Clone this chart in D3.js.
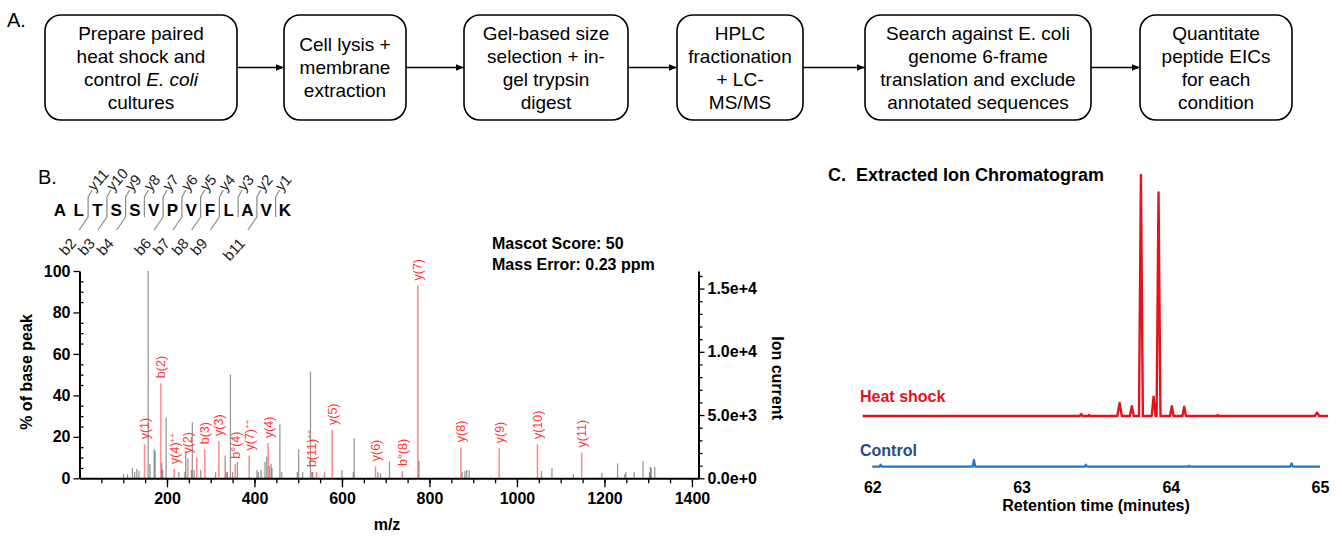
<!DOCTYPE html>
<html>
<head>
<meta charset="utf-8">
<script src="https://cdn.jsdelivr.net/npm/d3@7"></script>
<style>
  body { margin: 0; background: #fff; }
  text { font-family: "Liberation Sans", Arial, Helvetica, sans-serif; }
</style>
</head>
<body>
<svg id="fig" width="1336" height="536"></svg>
<script>
// ---- data ----
const steps = [
  ["Prepare paired", "heat shock and", "control *E. coli*", "cultures"],
  ["Cell lysis +", "membrane", "extraction"],
  ["Gel-based size", "selection + in-", "gel trypsin", "digest"],
  ["HPLC", "fractionation", "+ LC-", "MS/MS"],
  ["Search against E. coli", "genome 6-frame", "translation and exclude", "annotated sequences"],
  ["Quantitate", "peptide EICs", "for each", "condition"]
];

const residues = "ALTSSVPVFLAVK".split("");
const yIons = [11, 10, 9, 8, 7, 6, 5, 4, 3, 2, 1];
const bIons = [2, 3, 4, 6, 7, 8, 9, 11];

// unassigned peaks: [m/z, % of base peak]
const grayPeaks = [
  [100.6, 2], [109.7, 2], [121, 5], [126, 3], [131, 4.5], [136, 3.5], [157, 100], [161, 7],
  [170.7, 14], [173, 13], [188, 7.5], [190, 4], [198, 29.3], [227, 3], [241, 3], [243, 13],
  [256, 4], [258, 27], [262, 4], [277, 4], [311, 3], [333, 11], [338, 3], [345, 50], [350, 3],
  [361, 8], [405.5, 4], [409, 3], [415, 4], [424, 8], [428, 10.5], [434, 6], [438, 7], [440, 5],
  [458, 26], [462, 3], [498, 3], [501, 14], [510, 3], [528, 51.5], [533, 3], [600, 4], [626, 3],
  [628, 19.3], [682, 3], [688, 2.5], [708.6, 8.3], [776, 8.5], [874.7, 3], [881, 3.5], [885, 4],
  [890.7, 4], [1056, 3.5], [1080, 5], [1129, 2], [1194, 2.5], [1230, 7.2], [1246, 2], [1249, 3],
  [1268, 3], [1288, 8.5], [1303, 3], [1305, 5.5], [1307, 5], [1315, 5.5]
];

// assigned fragment peaks: [m/z, % of base peak, label]
const matchedPeaks = [
  [148.6, 16.4, "y(1)"], [186, 45.9, "b(2)"], [216.5, 4.5, "y(4)++"], [247.7, 9.5, "y(2)"],
  [268, 10, ""], [286.6, 14, "b(3)"], [318.6, 18, "y(3)"], [336, 3, ""], [356, 7, "b°(4)"],
  [388, 11, "y(7)++"], [431.3, 17, "y(4)"], [531, 3, "b(11)++"], [542, 3, ""], [560, 3, ""],
  [577.6, 23.3, "y(5)"], [676.6, 5.8, "y(6)"], [738, 3.5, "b°(8)"], [773.5, 93, "y(7)"],
  [871.8, 15, "y(8)"], [959.3, 14.5, "y(9)"], [1046.9, 16.5, "y(10)"], [1148, 12.5, "y(11)"]
];

const pctTicks = [0, 20, 40, 60, 80, 100];
const ionTicks = [0, 5000, 10000, 15000];
const mzTicks = [200, 400, 600, 800, 1000, 1200, 1400];

// extracted ion chromatograms: [retention time (min), relative intensity]
const heatShock = [
  [61.936, 0], [63.39, 0], [63.40, 0.8], [63.41, 0], [63.445, 0], [63.453, 0.4], [63.46, 0],
  [63.642, 0], [63.657, 5.4], [63.672, 0], [63.726, 0], [63.739, 4.1], [63.752, 0],
  [63.787, 0], [63.800, 100], [63.813, 0], [63.872, 0], [63.885, 8], [63.898, 0],
  [63.905, 0], [63.918, 92.8], [63.931, 0], [63.995, 0], [64.007, 4.1], [64.019, 0],
  [64.078, 0], [64.09, 3.9], [64.102, 0], [64.31, 0], [64.315, 0.4], [64.32, 0],
  [64.965, 0], [64.98, 1.4], [64.995, 0], [65.054, 0]
];
const control = [
  [62.0, 0], [62.048, 0], [62.056, 0.8], [62.064, 0], [62.672, 0], [62.681, 2.8], [62.69, 0],
  [63.424, 0], [63.431, 0.8], [63.44, 0], [64.116, 0], [64.123, 0.4], [64.13, 0],
  [64.8, 0], [64.809, 1.4], [64.818, 0], [65.0, 0]
];
const rtTicks = [62, 63, 64, 65];

// ---- drawing ----
const svg = d3.select("#fig");
svg.append("rect").attr("width", 1336).attr("height", 536).attr("fill", "#fff");

// A. workflow
svg.append("text").attr("x", 7).attr("y", 27).attr("font-size", 20).text("A.");

const boxLeft = [45, 284, 464, 677, 865, 1140];
const boxRight = [237, 406, 628, 803, 1091, 1292];
const boxTop = 15, boxBottom = 120, boxMid = (boxTop + boxBottom) / 2;

const flow = svg.append("g");
flow.append("defs").append("marker")
  .attr("id", "arrow").attr("viewBox", "0 0 10 10").attr("refX", 10).attr("refY", 5)
  .attr("markerWidth", 6).attr("markerHeight", 6).attr("orient", "auto")
  .append("path").attr("d", "M0,1L10,5L0,9Z").attr("fill", "#000");

steps.forEach((lines, i) => {
  const x0 = boxLeft[i], x1 = boxRight[i];
  flow.append("rect")
    .attr("x", x0).attr("y", boxTop).attr("width", x1 - x0).attr("height", boxBottom - boxTop)
    .attr("rx", 16).attr("fill", "#fff").attr("stroke", "#000").attr("stroke-width", 1.6);
  const t = flow.append("text").attr("text-anchor", "middle").attr("font-size", 19);
  lines.forEach((line, j) => {
    const cy = boxMid + (j - (lines.length - 1) / 2) * 23;
    const row = t.append("tspan").attr("x", (x0 + x1) / 2).attr("y", cy).attr("dy", "0.35em");
    line.split("*").forEach((part, k) => {
      if (!part) return;
      if (k === 0) row.text(part);
      else t.append("tspan").attr("font-style", k % 2 ? "italic" : "normal").text(part);
    });
  });
  if (i < steps.length - 1) {
    flow.append("line")
      .attr("x1", x1).attr("x2", boxLeft[i + 1]).attr("y1", boxMid).attr("y2", boxMid)
      .attr("stroke", "#000").attr("stroke-width", 1.4).attr("marker-end", "url(#arrow)");
  }
});

// B. spectrum
svg.append("text").attr("x", 38).attr("y", 184).attr("font-size", 20).text("B.");

// peptide fragmentation map
const pos = d3.scalePoint().domain(d3.range(residues.length)).range([60, 285]);
const pep = svg.append("g");
pep.selectAll("text.res").data(residues).join("text")
  .attr("class", "res")
  .attr("x", (d, i) => pos(i)).attr("y", 210).attr("dy", "0.36em")
  .attr("text-anchor", "middle")
  .attr("font-family", "'Open Sans', sans-serif").attr("font-weight", 700).attr("font-size", 17)
  .text(d => d);

const cuts = d3.range(2, residues.length);
const cutX = k => (pos(k - 1) + pos(k)) / 2;
pep.selectAll("line.cut").data(cuts).join("line")
  .attr("class", "cut")
  .attr("x1", cutX).attr("x2", cutX).attr("y1", 197).attr("y2", 217)
  .attr("stroke", "#888").attr("stroke-width", 1.2);
pep.selectAll("path.ycut").data(yIons).join("path")
  .attr("class", "ycut")
  .attr("d", n => { const x = cutX(residues.length - n); return `M${x},197L${x + 4},190`; })
  .attr("stroke", "#888").attr("stroke-width", 1.2).attr("fill", "none");
pep.selectAll("text.ylab").data(yIons).join("text")
  .attr("class", "ylab")
  .attr("transform", n => `translate(${cutX(residues.length - n) + 6},192) rotate(-48)`)
  .attr("font-family", "'Open Sans', sans-serif").attr("font-size", 15).attr("fill", "#222")
  .text(n => "y" + n);
pep.selectAll("path.bcut").data(bIons).join("path")
  .attr("class", "bcut")
  .attr("d", n => { const x = cutX(n); return `M${x},217L${x - 9},230`; })
  .attr("stroke", "#888").attr("stroke-width", 1.2).attr("fill", "none");
pep.selectAll("text.blab").data(bIons).join("text")
  .attr("class", "blab")
  .attr("transform", n => `translate(${cutX(n) - 11},244) rotate(-48)`)
  .attr("text-anchor", "end")
  .attr("font-family", "'Open Sans', sans-serif").attr("font-size", 15).attr("fill", "#222")
  .text(n => "b" + n);

// scales
const x = d3.scaleLinear().domain([0, 1415]).range([79.5, 698.5]);
const yPct = d3.scaleLinear().domain([0, 100]).range([478.3, 271]);
const yIon = d3.scaleLinear().domain([0, 16390]).range([478.3, 271]);

const spec = svg.append("g");
spec.selectAll("line.gray").data(grayPeaks).join("line")
  .attr("class", "gray")
  .attr("x1", d => x(d[0])).attr("x2", d => x(d[0]))
  .attr("y1", yPct(0)).attr("y2", d => yPct(d[1]))
  .attr("stroke", "#555").attr("stroke-opacity", 0.6).attr("stroke-width", 1.3);
spec.selectAll("line.red").data(matchedPeaks).join("line")
  .attr("class", "red")
  .attr("x1", d => x(d[0])).attr("x2", d => x(d[0]))
  .attr("y1", yPct(0)).attr("y2", d => yPct(d[1]))
  .attr("stroke", "#ff3b3b").attr("stroke-opacity", 0.6).attr("stroke-width", 1.5);
const lab = spec.selectAll("text.frag").data(matchedPeaks.filter(d => d[2])).join("text")
  .attr("class", "frag")
  .attr("transform", d => `translate(${x(d[0]) + 4.5},${yPct(d[1]) - 5}) rotate(-90)`)
  .attr("font-size", 12.5).attr("fill", "#ff3a3a");
lab.append("tspan").text(d => d[2].replace("++", ""));
lab.filter(d => d[2].endsWith("++")).append("tspan")
  .attr("font-size", 8).attr("dy", -4).text("++");

// axes
const styleAxis = g => {
  g.selectAll("text").attr("font-size", 16).attr("font-weight", 700).attr("fill", "#000")
    .attr("font-family", "'Liberation Sans', Arial, sans-serif");
  g.selectAll("line").attr("stroke", "#000").attr("stroke-width", 1.3);
  g.select(".domain").attr("stroke", "#000").attr("stroke-width", 2);
};

svg.append("g").attr("transform", `translate(0,${yPct(0)})`)
  .call(d3.axisBottom(x).tickValues(d3.range(50, 1401, 50)).tickSize(5).tickFormat("").tickSizeOuter(0))
  .call(g => g.select(".domain").remove())
  .call(styleAxis);
svg.append("g").attr("transform", `translate(0,${yPct(0)})`)
  .call(d3.axisBottom(x).tickValues(mzTicks).tickSize(9).tickPadding(5).tickSizeOuter(0)
    .tickFormat(d3.format("d")))
  .call(styleAxis);

svg.append("g").attr("transform", `translate(${x(0)},0)`)
  .call(d3.axisRight(yPct).tickValues(d3.range(5, 101, 5).filter(v => v % 20)).tickSize(4).tickFormat("").tickSizeOuter(0))
  .call(g => g.select(".domain").remove())
  .call(styleAxis);
svg.append("g").attr("transform", `translate(${x(0)},0)`)
  .call(d3.axisLeft(yPct).tickValues(pctTicks).tickSize(6).tickPadding(3).tickSizeOuter(0))
  .call(styleAxis);

svg.append("g").attr("transform", `translate(${x.range()[1]},0)`)
  .call(d3.axisRight(yIon).tickValues(d3.range(1000, 16001, 1000).filter(v => v % 5000)).tickSize(4).tickFormat("").tickSizeOuter(0))
  .call(g => g.select(".domain").remove())
  .call(styleAxis);
svg.append("g").attr("transform", `translate(${x.range()[1]},0)`)
  .call(d3.axisRight(yIon).tickValues(ionTicks).tickSize(6).tickPadding(3).tickSizeOuter(0)
    .tickFormat(d3.format(".1e")))
  .call(styleAxis);

svg.append("text").attr("transform", "translate(32,372) rotate(-90)")
  .attr("text-anchor", "middle").attr("font-size", 16).attr("font-weight", 700).text("% of base peak");
svg.append("text").attr("transform", "translate(772,378) rotate(90)")
  .attr("text-anchor", "middle").attr("font-size", 16).attr("font-weight", 700).text("Ion current");
svg.append("text").attr("x", 387).attr("y", 530)
  .attr("text-anchor", "middle").attr("font-size", 16).attr("font-weight", 700).text("m/z");
svg.append("text").attr("x", 492).attr("y", 249).attr("font-size", 16).attr("font-weight", 700)
  .text("Mascot Score: 50");
svg.append("text").attr("x", 492).attr("y", 270).attr("font-size", 16).attr("font-weight", 700)
  .text("Mass Error: 0.23 ppm");

// C. extracted ion chromatogram
svg.append("text").attr("x", 828).attr("y", 181).attr("font-size", 18).attr("font-weight", 700).text("C.");
svg.append("text").attr("x", 856).attr("y", 181).attr("font-size", 18).attr("font-weight", 700)
  .text("Extracted Ion Chromatogram");

const xt = d3.scaleLinear().domain([62, 65]).range([872.3, 1320]);
const yHeat = d3.scaleLinear().domain([0, 100]).range([416, 175]);
const yCtrl = d3.scaleLinear().domain([0, 100]).range([466.7, 225.7]);

svg.append("path").datum(heatShock)
  .attr("d", d3.line().x(d => xt(d[0])).y(d => yHeat(d[1])))
  .attr("fill", "none").attr("stroke", "#e3121b").attr("stroke-width", 2.4).attr("stroke-linejoin", "round");
svg.append("path").datum(control)
  .attr("d", d3.line().x(d => xt(d[0])).y(d => yCtrl(d[1])))
  .attr("fill", "none").attr("stroke", "#1f77cc").attr("stroke-width", 2.2).attr("stroke-linejoin", "round");

svg.append("text").attr("x", 860).attr("y", 402).attr("font-size", 16).attr("font-weight", 700)
  .attr("fill", "#e3121b").text("Heat shock");
svg.append("text").attr("x", 860).attr("y", 456).attr("font-size", 16).attr("font-weight", 700)
  .attr("fill", "#1b4f8e").text("Control");

svg.append("g").attr("transform", "translate(0,478)")
  .call(d3.axisBottom(xt).tickValues(rtTicks).tickSize(0).tickPadding(4).tickFormat(d3.format("d")))
  .call(g => g.select(".domain").remove())
  .call(styleAxis);
svg.append("text").attr("x", 1096).attr("y", 511).attr("text-anchor", "middle")
  .attr("font-size", 16).attr("font-weight", 700).text("Retention time (minutes)");
</script>
</body>
</html>
